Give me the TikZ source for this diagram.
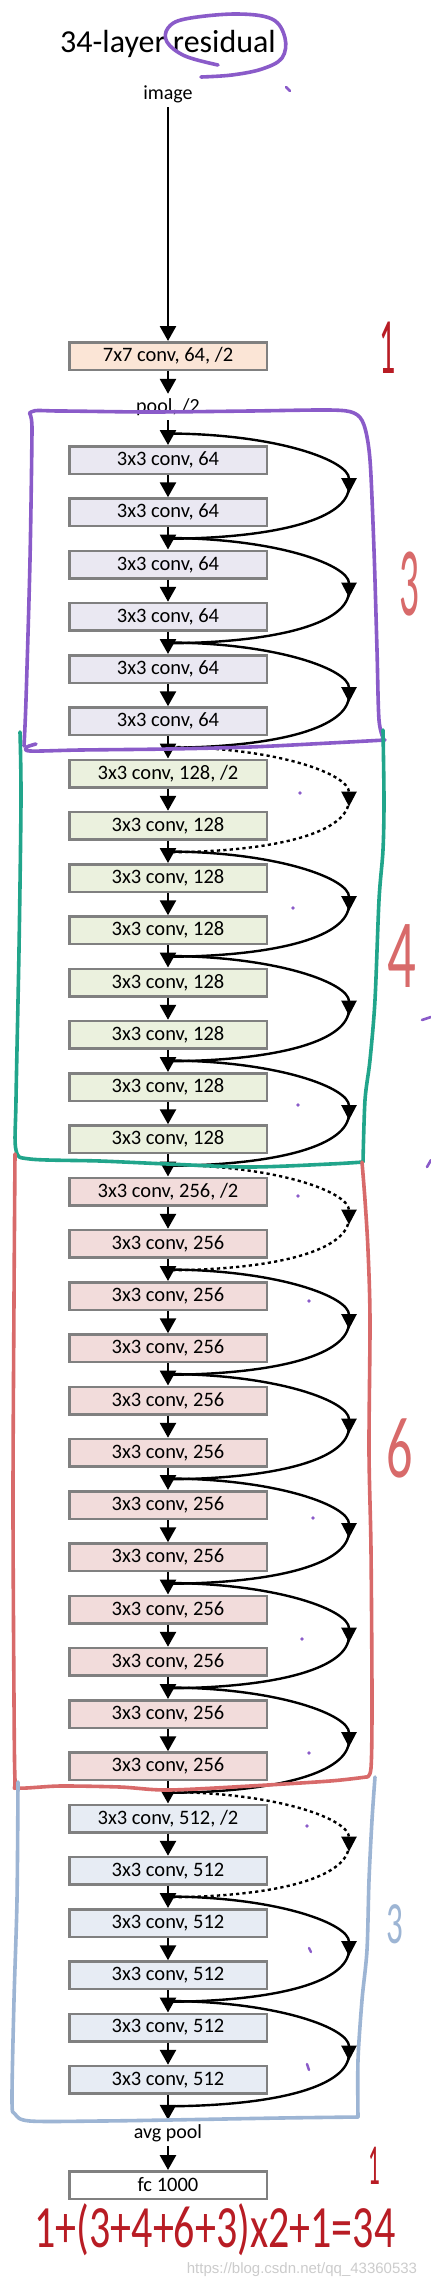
\documentclass[tikz,border=0pt]{standalone}
\usepackage{fontspec}
\setmainfont{Carlito}
\newfontfamily\wmfont{Liberation Sans}
\usetikzlibrary{arrows.meta,calc}
\definecolor{cpeach}{HTML}{FBE5D6}
\definecolor{c64}{HTML}{EAE8F2}
\definecolor{c128}{HTML}{EBF1DE}
\definecolor{c256}{HTML}{F2DCDB}
\definecolor{c512}{HTML}{E7ECF4}
\definecolor{boxline}{HTML}{808080}
\definecolor{penpurple}{HTML}{8A5BC9}
\definecolor{penteal}{HTML}{21A58B}
\definecolor{penred}{HTML}{D86A6A}
\definecolor{penblue}{HTML}{9DB5D4}
\definecolor{pendark}{HTML}{B81C24}
\begin{document}
\begin{tikzpicture}[x=1pt,y=-1pt,
  layerbox/.style={draw=boxline, line width=2.5pt, minimum width=197.5pt, minimum height=27.5pt, inner sep=0pt, font=\fontsize{20.5}{24}\selectfont},
  plainlbl/.style={font=\fontsize{20}{24}\selectfont, inner sep=4pt, text height=14pt, text depth=4pt},
  flow/.style={line width=2.7pt, -{Triangle[width=16pt,length=15pt]}},
  skipline/.style={line width=2.4pt},
  skiptip/.style={-{Triangle[width=15pt,length=15pt]}},
  skipdash/.style={dash pattern=on 3.2pt off 3.2pt},
  handline/.style={line width=3.6pt, line cap=round, line join=round},
  handnum/.style={inner sep=0pt},
]
\fill[white] (0,0) rectangle (431,2279);
\useasboundingbox (0,0) rectangle (431,2279);

% title and input
\node[anchor=base, inner sep=0pt, font=\fontsize{32}{36}\selectfont] (title) at (168,52) {34-layer residual};
\node[plainlbl] (image) at (168,94) {image};
\node[layerbox, fill=cpeach] (conv1) at (168,356) {7x7 conv, 64, /2};
\node[plainlbl] (pool) at (168,407) {pool, /2};

% residual layers
\foreach \i in {0,...,5}
  \node[layerbox, fill=c64] (b\i) at (168,{460+52.25*\i}) {3x3 conv, 64};
\node[layerbox, fill=c128] (b6) at (168,{460+52.25*6}) {3x3 conv, 128, /2};
\foreach \i in {7,...,13}
  \node[layerbox, fill=c128] (b\i) at (168,{460+52.25*\i}) {3x3 conv, 128};
\node[layerbox, fill=c256] (b14) at (168,{460+52.25*14}) {3x3 conv, 256, /2};
\foreach \i in {15,...,25}
  \node[layerbox, fill=c256] (b\i) at (168,{460+52.25*\i}) {3x3 conv, 256};
\node[layerbox, fill=c512] (b26) at (168,{460+52.25*26}) {3x3 conv, 512, /2};
\foreach \i in {27,...,31}
  \node[layerbox, fill=c512] (b\i) at (168,{460+52.25*\i}) {3x3 conv, 512};

\node[plainlbl] (avgpool) at (168,2133) {avg pool};
\node[layerbox, fill=white] (fc) at (168,2185) {fc 1000};

% main flow
\draw[flow] (image) -- (conv1);
\draw[flow] (conv1) -- (pool);
\draw[flow] (pool) -- (b0);
\foreach \i in {0,...,30}{
  \pgfmathtruncatemacro\n{\i+1}
  \draw[flow] (b\i) -- (b\n);
}
\draw[flow] (b31) -- (avgpool);
\draw[flow] (avgpool) -- (fc);

% shortcut connections
\foreach \i/\d in {0/solid,2/solid,4/solid,6/skipdash,8/solid,10/solid,12/solid,14/skipdash,16/solid,18/solid,20/solid,22/solid,24/solid,26/skipdash,28/solid,30/solid}{
  \pgfmathtruncatemacro\n{\i+1}
  \coordinate (s\i) at ($(b\i.north)+(3,-11.5)$);
  \coordinate (a\i) at ($(b\i.south)!0.5!(b\n.north)+(181,0)$);
  \coordinate (e\i) at ($(b\n.south)+(3,11.5)$);
  \draw[skipline,\d,skiptip] (s\i) .. controls +(109,1) and +(0,-32) .. ($(a\i)+(0,7)$);
  \draw[skipline,\d] (a\i) .. controls +(0,32) and +(109,-1) .. (e\i);
}

% hand-drawn annotations
\draw[handline, penpurple] plot[smooth, tension=0.6] coordinates {(218,65) (185,56) (167,42) (168,28) (185,19) (235,14) (272,19) (285,38) (282,58) (262,69) (232,75) (201,77)};
\draw[handline, penpurple, line width=2.6pt] (286,87) -- (290,91);

% purple frame (64)
\draw[handline, penpurple] plot[smooth, tension=0.5] coordinates {(24,746) (26,700) (30,560) (32,430) (31,412) (60,411) (150,412) (250,411) (330,410) (354,413) (364,425) (370,460) (374,550) (377,650) (379,720) (384,740)};
\draw[handline, penpurple] plot[smooth, tension=0.5] coordinates {(385,740) (330,743) (250,747) (168,749) (80,750) (30,751) (27,747) (36,744)};

% teal frame (128)
\draw[handline, penteal] plot[smooth, tension=0.5] coordinates {(20,732) (21,800) (19,950) (16,1100) (16,1150) (30,1159) (100,1161) (168,1164) (250,1167) (330,1164) (363,1162)};
\draw[handline, penteal] plot[smooth, tension=0.5] coordinates {(383,730) (384,800) (383,850) (379,900) (375,1000) (370,1060) (365,1100) (363,1162)};

% red frame (256)
\draw[handline, penred] plot[smooth, tension=0.5] coordinates {(15,1154) (14,1300) (13,1500) (14,1700) (15,1780) (18,1788) (60,1786) (120,1787) (168,1790) (250,1786) (330,1781) (366,1777)};
\draw[handline, penred] plot[smooth, tension=0.5] coordinates {(362,1162) (365,1200) (368,1250) (370,1320) (369,1450) (371,1550) (372,1700) (371,1768) (366,1777)};

% blue frame (512)
\draw[handline, penblue] plot[smooth, tension=0.5] coordinates {(18,1782) (17,1900) (14,2000) (12,2100) (15,2114) (30,2121) (100,2121) (168,2120) (280,2118) (358,2117)};
\draw[handline, penblue] plot[smooth, tension=0.5] coordinates {(375,1777) (372,1820) (369,1880) (367,1950) (362,2000) (358,2060) (358,2117)};

% handwritten counts
\node[handnum, text=pendark, font=\fontsize{80}{80}\selectfont, xscale=0.4] (n1) at (388,348) {1};
\node[handnum, text=penred, font=\fontsize{98}{98}\selectfont, xscale=0.4] (n3a) at (409,584) {3};
\node[handnum, text=penred, font=\fontsize{98}{98}\selectfont, xscale=0.58] (n4) at (402,956) {4};
\node[handnum, text=penred, font=\fontsize{87}{87}\selectfont, xscale=0.6] (n6) at (400,1448) {6};
\node[handnum, text=penblue, font=\fontsize{60}{60}\selectfont, xscale=0.55] (n3b) at (395,1924) {3};
\node[handnum, text=pendark, font=\fontsize{58}{58}\selectfont, xscale=0.4] (n1b) at (374,2166) {1};
\node[handnum, text=pendark, font=\fontsize{60}{60}\selectfont, xscale=0.7] (eq) at (215,2230) {1+(3+4+6+3)x2+1=34};

% stray pen marks
\foreach \p in {(300,793),(293,908),(298,1105),(298,1196),(309,1301),(313,1518),(302,1639),(309,1753),(307,1826)}
  \fill[penpurple] \p circle (1.8pt);
\draw[penpurple, line width=2.4pt, line cap=round] (309,1948) -- (311,1952);
\draw[penpurple, line width=2.4pt, line cap=round] (307,2064) -- (309,2070);
\draw[penpurple, line width=2.6pt, line cap=round] (422,1020) -- (431,1017);
\draw[penpurple, line width=2.6pt, line cap=round] (427,1167) -- (431,1160);

% watermark
\node[text=gray!40, inner sep=0pt, font=\wmfont\fontsize{15}{16}\selectfont] (wm) at (302,2270) {https://blog.csdn.net/qq\_43360533};
\end{tikzpicture}
\end{document}
